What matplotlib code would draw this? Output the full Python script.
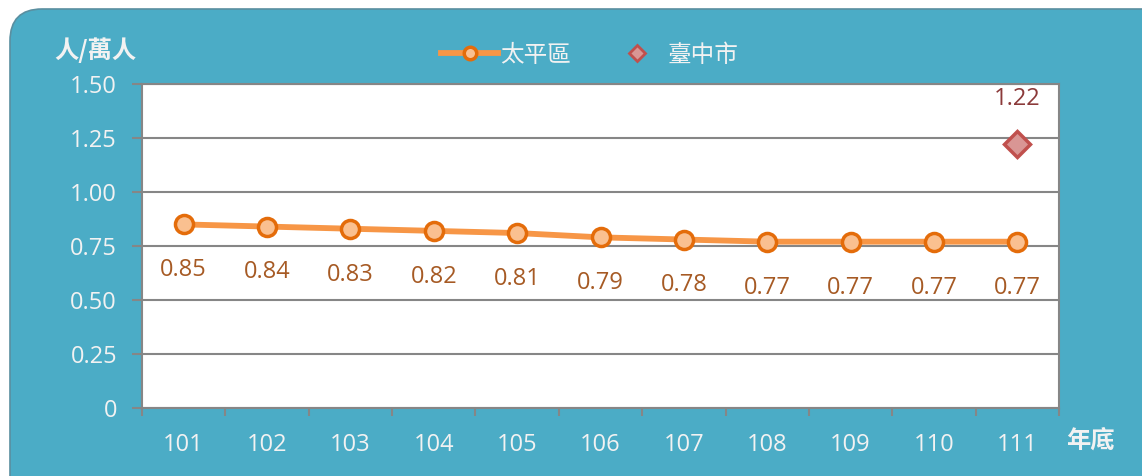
import matplotlib
matplotlib.use("Agg")
import matplotlib.pyplot as plt
from matplotlib.patches import FancyBboxPatch
from matplotlib.lines import Line2D

plt.rcParams['font.family'] = ['Open Sans', 'Noto Sans CJK TC', 'DejaVu Sans']

# datos
anios = ['101', '102', '103', '104', '105', '106', '107', '108', '109', '110', '111']
taiping = [0.85, 0.84, 0.83, 0.82, 0.81, 0.79, 0.78, 0.77, 0.77, 0.77, 0.77]
taichung_idx = 10
taichung = 1.22
yticks = [0, 0.25, 0.5, 0.75, 1.0, 1.25, 1.5]
ytick_labels = ['0', '0.25', '0.50', '0.75', '1.00', '1.25', '1.50']

fondo = '#4BACC6'
texto = '#F2F2F2'
gris = '#868686'
cjk = ['Noto Sans CJK TC', 'DejaVu Sans']
tam = 17

fig = plt.figure(figsize=(11.42, 4.76), dpi=100)
fig.patch.set_facecolor('white')

# caja redondeada de fondo
caja = FancyBboxPatch((0.10, -0.4), 11.7, 5.07, boxstyle="round,pad=0,rounding_size=0.32",
                      transform=fig.dpi_scale_trans, facecolor=fondo, edgecolor='#5A8FA0',
                      linewidth=1.2, zorder=-10)
fig.patches.append(caja)

ax = fig.add_axes([142/1142, 1-408/476, (1059-142)/1142, (408-84)/476])
ax.set_facecolor('white')
x = list(range(len(anios)))

ax.plot(x, taiping, color='#F79646', linewidth=4.2, marker='o', markersize=13,
        markerfacecolor='#FAC090', markeredgecolor='#E46C0A', markeredgewidth=2.5,
        solid_capstyle='round', zorder=3)
ax.plot([taichung_idx], [taichung], linestyle='none', marker='D', markersize=13,
        markerfacecolor='#D99694', markeredgecolor='#C0504D', markeredgewidth=2.5, zorder=3)

for i, v in enumerate(taiping):
    ax.annotate(f'{v:.2f}', (i, v), xytext=(0, -33), textcoords='offset points',
                ha='center', va='center', fontsize=tam, color='#A65A24')
ax.annotate(f'{taichung:.2f}', (taichung_idx, taichung), xytext=(0, 33), textcoords='offset points',
            ha='center', va='center', fontsize=tam, color='#8B3A3A')

ax.set_xlim(-0.5, len(anios) - 0.5)
ax.set_ylim(0, 1.5)
ax.set_yticks(yticks)
ax.set_yticklabels(ytick_labels)
ax.set_xticks(x)
ax.set_xticklabels(anios)
ax.set_xticks([i - 0.5 for i in range(len(anios) + 1)], minor=True)
ax.tick_params(axis='x', which='major', length=0, pad=18, labelsize=tam, labelcolor=texto)
ax.tick_params(axis='x', which='minor', length=6, width=1.5, color=gris, direction='out')
ax.tick_params(axis='y', length=7, width=1.5, color=gris, pad=11, labelsize=tam, labelcolor=texto)
ax.yaxis.grid(True, color=gris, linewidth=1.5)
ax.set_axisbelow(True)
for s in ax.spines.values():
    s.set_color(gris)
    s.set_linewidth(1.5)

fig.text(95/1142, 1-50/476, '人/萬人', ha='center', va='center', fontsize=17.5,
         fontweight='bold', color=texto, family=cjk)
fig.text(1090/1142, 1-441/476, '年底', ha='center', va='center', fontsize=17.5,
         fontweight='bold', color=texto, family=cjk)

h1 = Line2D([], [], color='#F79646', linewidth=4.2, marker='o', markersize=9,
            markerfacecolor='#FAC090', markeredgecolor='#E46C0A', markeredgewidth=2.5)
h2 = Line2D([], [], linestyle='none', marker='D', markersize=8,
            markerfacecolor='#D99694', markeredgecolor='#C0504D', markeredgewidth=2)
fig.legend([h1, h2], ['太平區', '臺中市'], loc='center', bbox_to_anchor=(590/1142, 1-55/476),
           ncol=2, frameon=False, prop={'family': cjk, 'size': 17}, labelcolor=texto,
           handlelength=2.4, handletextpad=0.1, columnspacing=1.6)

fig.savefig('out.png', dpi=100, facecolor=fig.get_facecolor())
